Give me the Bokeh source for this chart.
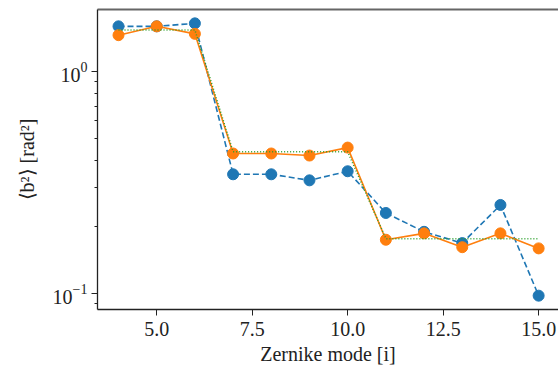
from bokeh.plotting import figure
from bokeh.models import FixedTicker, LinearAxis, Range1d, PrintfTickFormatter, LogTickFormatter
from bokeh.embed import file_html
from bokeh.resources import INLINE

modes = [4, 5, 6, 7, 8, 9, 10, 11, 12, 13, 14, 15]
blue_vals = [1.60, 1.60, 1.65, 0.345, 0.345, 0.324, 0.356, 0.231, 0.190, 0.169, 0.251, 0.098]
orange_vals = [1.46, 1.60, 1.48, 0.428, 0.428, 0.419, 0.455, 0.175, 0.187, 0.162, 0.187, 0.160]
green_vals = [1.54, 1.54, 1.54, 0.436, 0.436, 0.436, 0.436, 0.177, 0.177, 0.177, 0.177, 0.177]
x_ticks = [5.0, 7.5, 10.0, 12.5, 15.0]
y_ticks = [0.1, 1.0]
y_minor = [0.09, 0.2, 0.3, 0.4, 0.5, 0.6, 0.7, 0.8, 0.9]

FONT = "serif"
AX = "#222222"

p = figure(width=558, height=367, output_backend="svg", toolbar_location=None,
           y_axis_type="log", x_range=Range1d(3.45, 15.52), y_range=Range1d(0.0849, 1.905),
           min_border_left=97, min_border_right=0, min_border_top=9, min_border_bottom=54)
p.outline_line_color = None
p.grid.visible = False
p.background_fill_color = "white"
p.border_fill_color = "white"

xa = p.below[0]
ya = p.left[0]

top = LinearAxis(ticker=FixedTicker(ticks=[]), major_label_text_font_size="0px",
                 major_tick_out=0, minor_tick_out=0, major_label_standoff=0,
                 axis_line_color="#666666", axis_line_width=2)
p.add_layout(top, "above")

p.line(modes, blue_vals, color="#1f77b4", line_width=1.6, line_dash="6 3")
p.scatter(modes, blue_vals, color="#1f77b4", size=11)
p.line(modes, orange_vals, color="#ff7f0e", line_width=1.6)
p.scatter(modes, orange_vals, color="#ff7f0e", size=11)
p.line(modes, green_vals, color="#2ca02c", line_width=1.5, line_dash="1 2")

xa.ticker = FixedTicker(ticks=x_ticks)
xa.formatter = PrintfTickFormatter(format="%.1f")
xa.axis_label = "Zernike mode [i]"
ya.ticker = FixedTicker(ticks=y_ticks, minor_ticks=y_minor)
ya.formatter = LogTickFormatter()
ya.axis_label = "⟨b²⟩ [rad²]"

for ax in (xa, ya):
    ax.axis_line_color = AX
    ax.axis_line_width = 1.3
    ax.major_tick_line_color = AX
    ax.minor_tick_line_color = AX
    ax.major_tick_in = 0
    ax.major_tick_out = 6
    ax.minor_tick_in = 0
    ax.minor_tick_out = 3
    ax.major_label_text_font = FONT
    ax.major_label_text_font_size = "20px"
    ax.major_label_text_color = "#222222"
    ax.axis_label_text_font = FONT
    ax.axis_label_text_font_size = "20px"
    ax.axis_label_text_font_style = "normal"
    ax.axis_label_text_color = "#222222"
xa.minor_tick_out = 0
xa.major_label_standoff = 6
xa.axis_label_standoff = 4
ya.major_label_standoff = 4
ya.axis_label_standoff = 12

open("out.html", "w").write(file_html(p, INLINE))
